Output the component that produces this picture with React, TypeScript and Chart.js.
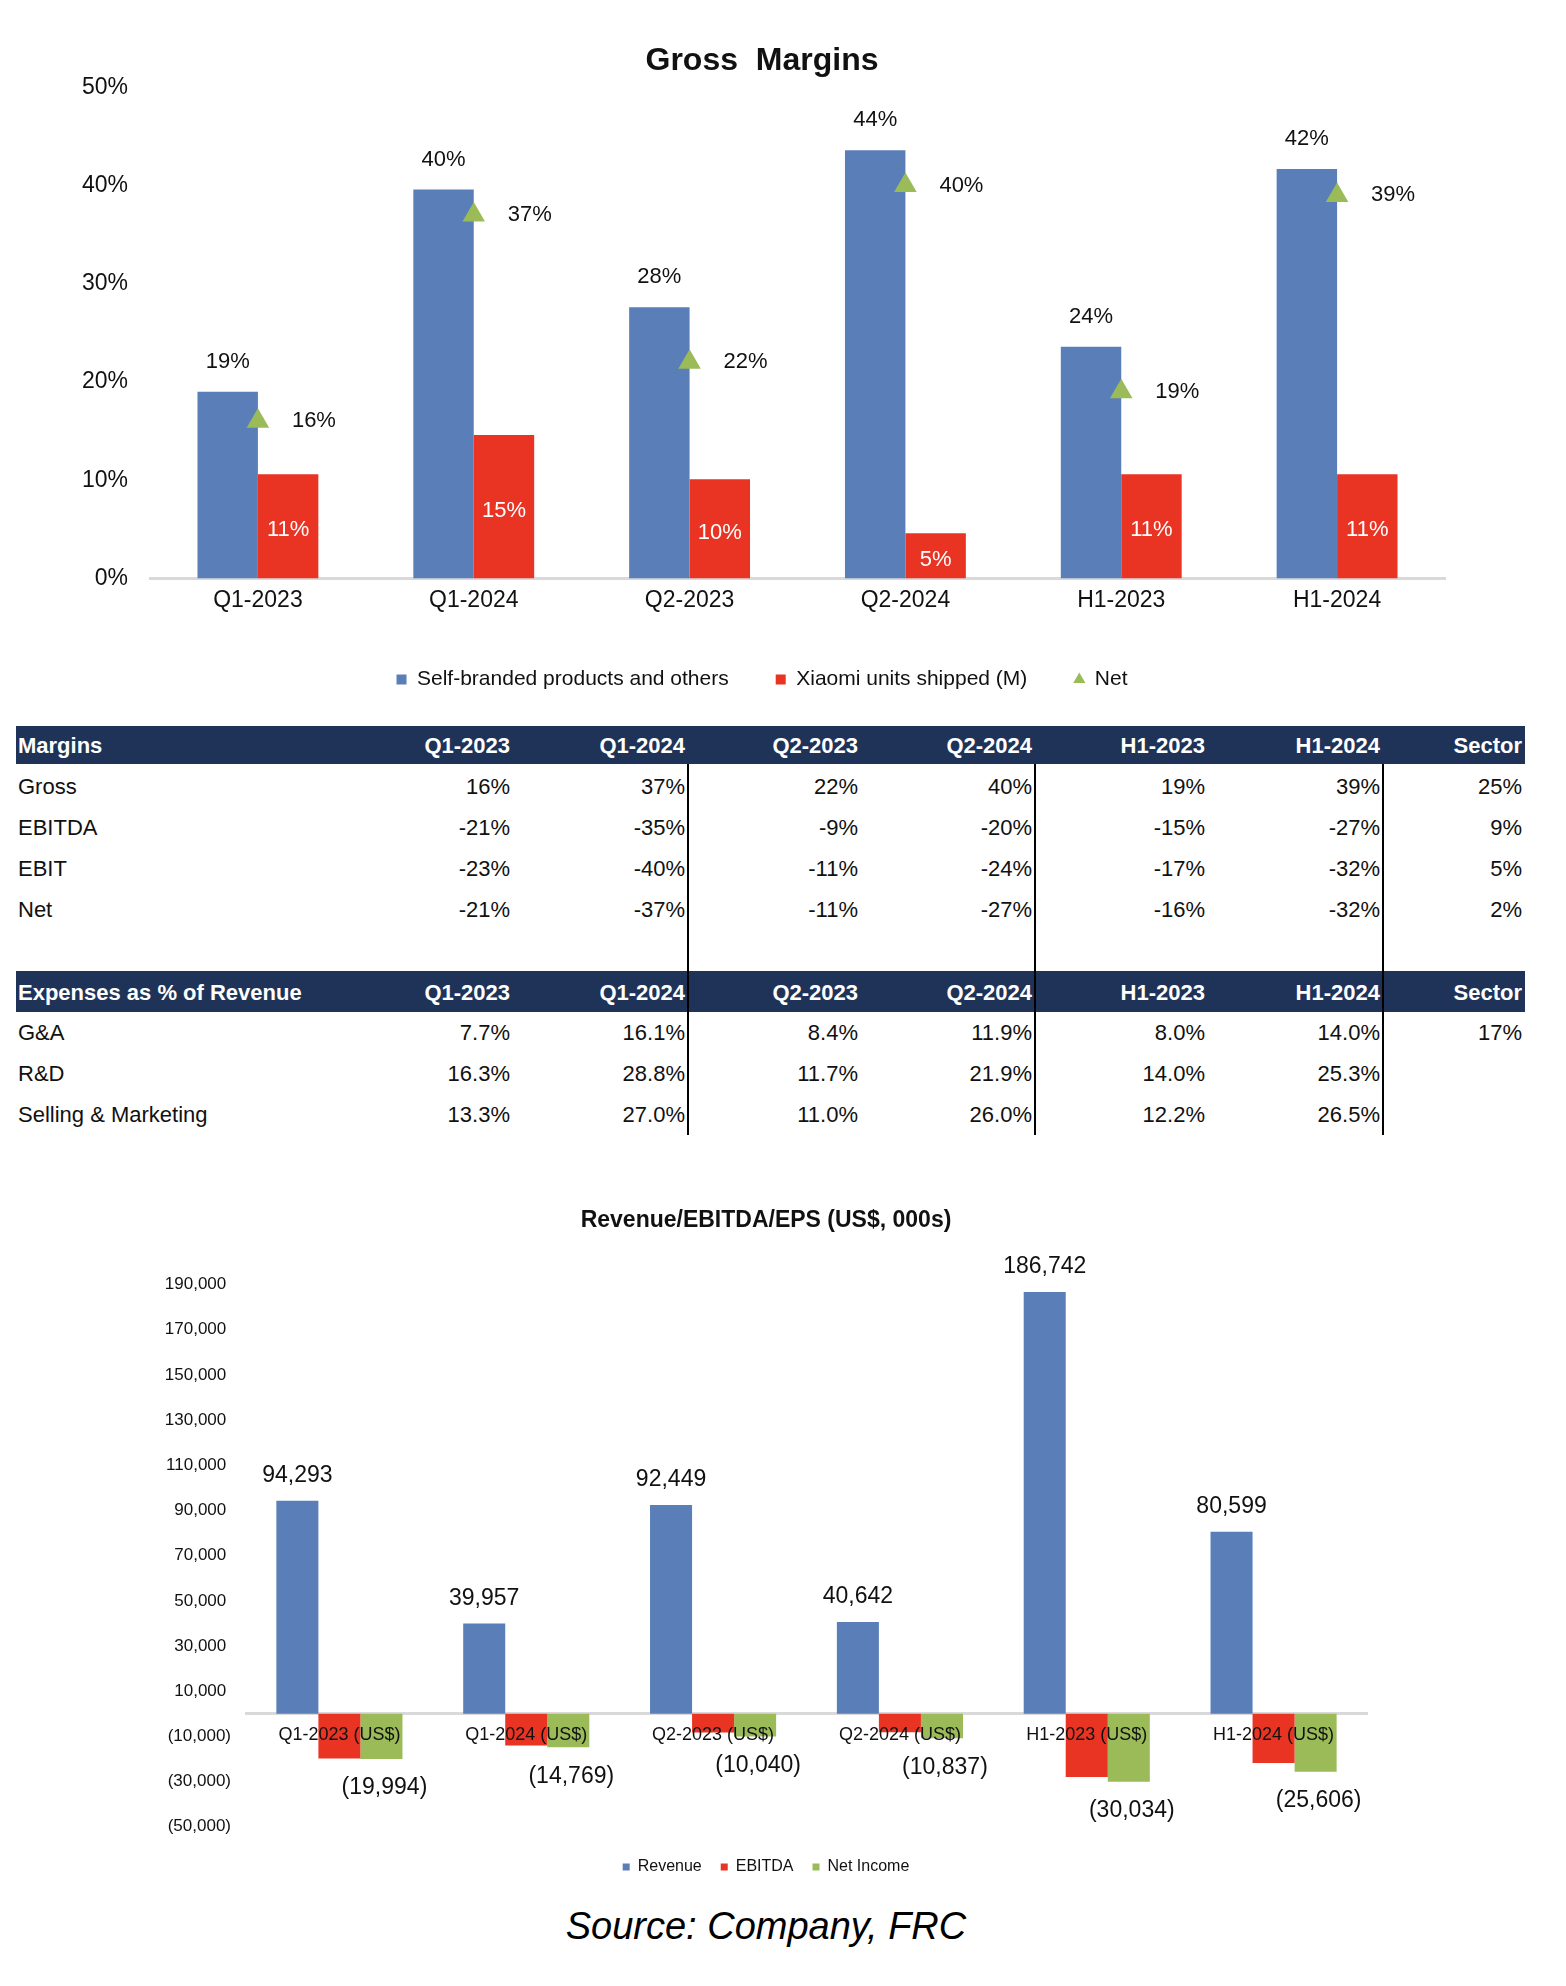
import React, { useEffect, useRef } from 'react';
import { Chart, registerables } from 'chart.js';

Chart.register(...registerables);

const FONT = '"Liberation Sans", Arial, Helvetica, sans-serif';
const BLUE = '#5A7EB8';
const RED = '#E93424';
const GREEN = '#9BBB59';
const NAVY = '#1F3358';
const INK = '#111111';

// ---------- Gross margins chart data ----------
const marginCategories = ['Q1-2023', 'Q1-2024', 'Q2-2023', 'Q2-2024', 'H1-2023', 'H1-2024'];
const selfBranded = [19.0, 39.6, 27.6, 43.6, 23.6, 41.7];
const xiaomiUnits = [10.6, 14.6, 10.1, 4.6, 10.6, 10.6];
const netMargin = [16, 37, 22, 40, 19, 39];
const marginAxis = { min: 0, max: 50, step: 10 };

// ---------- Table data ----------
const tableColumns = ['Q1-2023', 'Q1-2024', 'Q2-2023', 'Q2-2024', 'H1-2023', 'H1-2024', 'Sector'];
const grossRow = [16, 37, 22, 40, 19, 39, 25];
const ebitdaRow = [-21, -35, -9, -20, -15, -27, 9];
const ebitRow = [-23, -40, -11, -24, -17, -32, 5];
const netRow = [-21, -37, -11, -27, -16, -32, 2];
const gaRow = [7.7, 16.1, 8.4, 11.9, 8.0, 14.0, 17];
const rdRow = [16.3, 28.8, 11.7, 21.9, 14.0, 25.3, null];
const smRow = [13.3, 27.0, 11.0, 26.0, 12.2, 26.5, null];

// ---------- Revenue chart data ----------
const revenueCategories = ['Q1-2023 (US$)', 'Q1-2024 (US$)', 'Q2-2023 (US$)', 'Q2-2024 (US$)', 'H1-2023 (US$)', 'H1-2024 (US$)'];
const revenue = [94293, 39957, 92449, 40642, 186742, 80599];
const ebitda = [-19800, -14000, -8300, -8100, -28000, -21800];
const netIncome = [-19994, -14769, -10040, -10837, -30034, -25606];
const revenueAxis = { min: -50000, max: 190000, step: 20000 };

const fmtThousands = (v: number) => Math.abs(Math.round(v)).toLocaleString('en-US');

function MarginsChart() {
  const ref = useRef<HTMLCanvasElement>(null);
  useEffect(() => {
    const labelPlugin = {
      id: 'marginLabels',
      afterDatasetsDraw(chart: any) {
        const ctx = chart.ctx;
        ctx.save();
        ctx.font = `22px ${FONT}`;
        ctx.textAlign = 'center';
        ctx.textBaseline = 'middle';
        chart.getDatasetMeta(0).data.forEach((bar: any, i: number) => {
          ctx.fillStyle = INK;
          ctx.fillText(Math.round(selfBranded[i]) + '%', bar.x, bar.y - 30);
        });
        chart.getDatasetMeta(1).data.forEach((bar: any, i: number) => {
          ctx.fillStyle = '#FFFFFF';
          ctx.fillText(Math.round(xiaomiUnits[i]) + '%', bar.x, (bar.y + bar.base) / 2 + 4);
        });
        chart.getDatasetMeta(2).data.forEach((pt: any, i: number) => {
          ctx.fillStyle = INK;
          ctx.fillText(netMargin[i] + '%', pt.x + 56, pt.y);
        });
        ctx.restore();
      },
    };
    const chart = new Chart(ref.current!, {
      type: 'bar',
      data: {
        labels: marginCategories,
        datasets: [
          {
            type: 'bar',
            label: 'Self-branded products and others',
            data: selfBranded,
            backgroundColor: BLUE,
            borderWidth: 0,
            categoryPercentage: 0.56,
            barPercentage: 1.0,
            pointStyle: 'rect',
            order: 1,
          } as any,
          {
            type: 'bar',
            label: 'Xiaomi units shipped (M)',
            data: xiaomiUnits,
            backgroundColor: RED,
            borderWidth: 0,
            categoryPercentage: 0.56,
            barPercentage: 1.0,
            pointStyle: 'rect',
            order: 1,
          } as any,
          {
            type: 'line',
            label: 'Net',
            data: netMargin,
            showLine: false,
            pointStyle: 'triangle',
            pointRadius: 13,
            pointHoverRadius: 13,
            pointBackgroundColor: GREEN,
            pointBorderWidth: 0,
            backgroundColor: GREEN,
            borderColor: GREEN,
            order: 0,
          } as any,
        ],
      },
      options: {
        responsive: false,
        animation: false,
        layout: { padding: { left: 79, right: 121, top: 0, bottom: 0 } },
        plugins: {
          title: {
            display: true,
            text: 'Gross  Margins',
            color: INK,
            font: { family: FONT, size: 32, weight: 'bold' },
            padding: { top: 42, bottom: 7 },
          },
          legend: {
            position: 'bottom',
            labels: {
              usePointStyle: true,
              boxWidth: 10,
              boxHeight: 10,
              padding: 47,
              color: INK,
              font: { family: FONT, size: 21 },
              sort: (a: any, b: any) => a.datasetIndex - b.datasetIndex,
            },
          },
          tooltip: { enabled: false },
        },
        scales: {
          x: {
            grid: { display: false, drawTicks: false },
            border: { display: true, color: '#D9D9D9', width: 3 },
            ticks: { color: INK, font: { family: FONT, size: 23 }, padding: 8 },
          },
          y: {
            min: marginAxis.min,
            max: marginAxis.max,
            ticks: {
              stepSize: marginAxis.step,
              callback: (v: any) => v + '%',
              color: INK,
              font: { family: FONT, size: 23 },
              padding: 22,
            },
            grid: { display: false, drawTicks: false },
            border: { display: false },
            afterFit: (s: any) => {
              s.width = 71;
            },
          },
        },
      } as any,
      plugins: [labelPlugin],
    });
    return () => chart.destroy();
  }, []);
  return <canvas ref={ref} width={1566} height={700} style={{ display: 'block', position: 'absolute', left: 0, top: 0 }} />;
}

function RevenueChart() {
  const ref = useRef<HTMLCanvasElement>(null);
  useEffect(() => {
    const labelPlugin = {
      id: 'revenueLabels',
      afterDatasetsDraw(chart: any) {
        const ctx = chart.ctx;
        ctx.save();
        ctx.font = `23px ${FONT}`;
        ctx.textAlign = 'center';
        ctx.textBaseline = 'middle';
        ctx.fillStyle = INK;
        chart.getDatasetMeta(0).data.forEach((bar: any, i: number) => {
          ctx.fillText(fmtThousands(revenue[i]), bar.x, bar.y - 25);
        });
        chart.getDatasetMeta(2).data.forEach((bar: any, i: number) => {
          ctx.fillText('(' + fmtThousands(netIncome[i]) + ')', bar.x + 3, bar.y + 29);
        });
        ctx.restore();
      },
    };
    const chart = new Chart(ref.current!, {
      type: 'bar',
      data: {
        labels: revenueCategories,
        datasets: [
          { label: 'Revenue', data: revenue, backgroundColor: BLUE, borderWidth: 0, categoryPercentage: 0.675, barPercentage: 1.0, pointStyle: 'rect' } as any,
          { label: 'EBITDA', data: ebitda, backgroundColor: RED, borderWidth: 0, categoryPercentage: 0.675, barPercentage: 1.0, pointStyle: 'rect' } as any,
          { label: 'Net Income', data: netIncome, backgroundColor: GREEN, borderWidth: 0, categoryPercentage: 0.675, barPercentage: 1.0, pointStyle: 'rect' } as any,
        ],
      },
      options: {
        responsive: false,
        animation: false,
        layout: { padding: { left: 165, right: 199, top: 0, bottom: 0 } },
        plugins: {
          title: {
            display: true,
            text: 'Revenue/EBITDA/EPS (US$, 000s)',
            color: INK,
            font: { family: FONT, size: 23, weight: 'bold' },
            padding: { top: 42, bottom: 50 },
          },
          legend: {
            position: 'bottom',
            title: { display: true, text: ' ', font: { size: 1 }, padding: { top: 12, bottom: 0 } },
            labels: {
              usePointStyle: true,
              boxWidth: 7,
              boxHeight: 7,
              padding: 19,
              color: INK,
              font: { family: FONT, size: 16 },
            },
          },
          tooltip: { enabled: false },
        },
        scales: {
          x: {
            position: { y: 0 },
            grid: { display: false, drawTicks: false },
            border: { display: true, color: '#D9D9D9', width: 3 },
            ticks: { z: 1, color: INK, font: { family: FONT, size: 18 }, padding: 10, maxRotation: 0, autoSkip: false },
          },
          y: {
            min: revenueAxis.min,
            max: revenueAxis.max,
            ticks: {
              stepSize: revenueAxis.step,
              callback: (v: any) => (v < 0 ? '(' + fmtThousands(v) + ')' : fmtThousands(v) + ' '),
              color: INK,
              font: { family: FONT, size: 17 },
              padding: 15,
            },
            grid: { display: false, drawTicks: false },
            border: { display: false },
            afterFit: (s: any) => {
              s.width = 81;
            },
          },
        },
      } as any,
      plugins: [labelPlugin],
    });
    return () => chart.destroy();
  }, []);
  return <canvas ref={ref} width={1566} height={720} style={{ display: 'block', position: 'absolute', left: 0, top: 1165 }} />;
}

const colEdges = [16, 339, 513, 688, 861, 1035, 1208, 1383, 1525];

function HeaderBar({ title, top, height }: { title: string; top: number; height: number }) {
  return (
    <div style={{ position: 'absolute', left: colEdges[0], top, width: colEdges[8] - colEdges[0], height, background: NAVY }}>
      <div style={{ position: 'absolute', left: 2, top: 1, lineHeight: height + 'px', color: '#fff', fontWeight: 'bold', fontSize: 22, whiteSpace: 'nowrap' }}>{title}</div>
      {tableColumns.map((c, i) => (
        <div
          key={c}
          style={{
            position: 'absolute',
            left: colEdges[i + 1] - colEdges[0],
            width: colEdges[i + 2] - colEdges[i + 1] - 3,
            top: 1,
            lineHeight: height + 'px',
            textAlign: 'right',
            color: '#fff',
            fontWeight: 'bold',
            fontSize: 22,
          }}
        >
          {c}
        </div>
      ))}
    </div>
  );
}

function DataRow({ label, values, center, decimals }: { label: string; values: (number | null)[]; center: number; decimals: number }) {
  const h = 40;
  return (
    <div style={{ position: 'absolute', left: colEdges[0], top: center - h / 2, width: colEdges[8] - colEdges[0], height: h }}>
      <div style={{ position: 'absolute', left: 2, top: 0, lineHeight: h + 'px', color: INK, fontSize: 22, whiteSpace: 'nowrap' }}>{label}</div>
      {values.map((v, i) => (
        <div
          key={i}
          style={{
            position: 'absolute',
            left: colEdges[i + 1] - colEdges[0],
            width: colEdges[i + 2] - colEdges[i + 1] - 3,
            top: 0,
            lineHeight: h + 'px',
            textAlign: 'right',
            color: INK,
            fontSize: 22,
          }}
        >
          {v === null ? '' : (i === 6 ? v.toFixed(0) : v.toFixed(decimals)) + '%'}
        </div>
      ))}
    </div>
  );
}

function MarginsTable() {
  return (
    <>
      <HeaderBar title="Margins" top={726} height={38} />
      <DataRow label="Gross" values={grossRow} center={787} decimals={0} />
      <DataRow label="EBITDA" values={ebitdaRow} center={828} decimals={0} />
      <DataRow label="EBIT" values={ebitRow} center={869} decimals={0} />
      <DataRow label="Net" values={netRow} center={910} decimals={0} />
      <HeaderBar title="Expenses as % of Revenue" top={971} height={41} />
      <DataRow label="G&A" values={gaRow} center={1033} decimals={1} />
      <DataRow label="R&D" values={rdRow} center={1074} decimals={1} />
      <DataRow label="Selling & Marketing" values={smRow} center={1115} decimals={1} />
      {[colEdges[3], colEdges[5], colEdges[7]].map((x) => (
        <div key={x} style={{ position: 'absolute', left: x - 1, top: 764, width: 1.5, height: 1135 - 764, background: '#000' }} />
      ))}
    </>
  );
}

export default function App() {
  return (
    <div
      style={{
        position: 'absolute',
        left: 0,
        top: 0,
        width: 1566,
        height: 1986,
        background: '#fff',
        fontFamily: FONT,
        overflow: 'hidden',
      }}
    >
      <MarginsChart />
      <MarginsTable />
      <RevenueChart />
      <div
        style={{
          position: 'absolute',
          left: 0,
          width: 1532,
          top: 1904,
          lineHeight: '44px',
          textAlign: 'center',
          fontStyle: 'italic',
          fontSize: 38,
          color: '#000',
        }}
      >
        Source: Company, FRC
      </div>
    </div>
  );
}
